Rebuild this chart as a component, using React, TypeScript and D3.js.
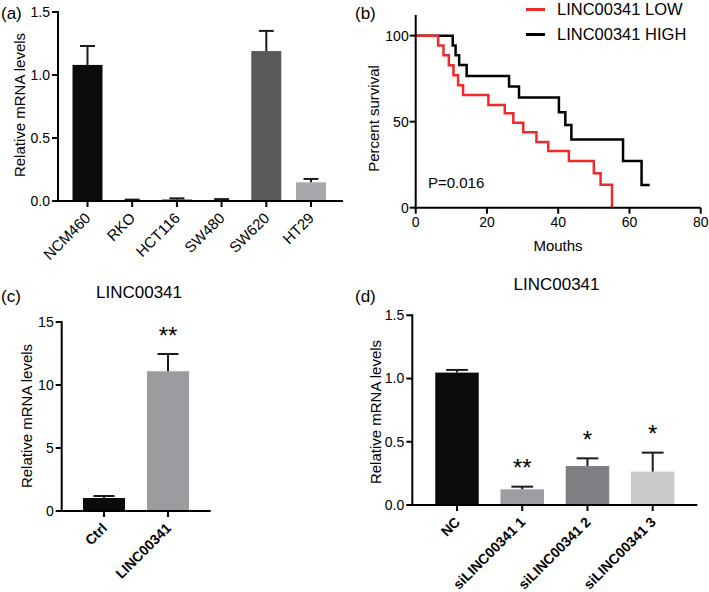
import React from 'react';
import * as d3 from 'd3';

const FONT = "'Liberation Sans', Arial, Helvetica, sans-serif";

// ---------- Panel (a) ----------
const cellLines = ['NCM460', 'RKO', 'HCT116', 'SW480', 'SW620', 'HT29'];
const cellMeans = [1.08, 0.005, 0.012, 0.008, 1.19, 0.148];
const cellErrors = [0.15, 0.006, 0.009, 0.007, 0.16, 0.027];
const cellColors = ['#0b0b0b', '#1c1c1c', '#3a3a3a', '#262626', '#58595b', '#a6a8ab'];
const aTicks = [0, 0.5, 1.0, 1.5];

// ---------- Panel (b) ----------
const lowTimes = [0, 6.3, 7.8, 9.3, 10.6, 11.9, 13.3, 20.4, 25.0, 27.4, 30.2, 33.9, 37.2, 43.0, 50.0, 51.9, 55.1];
const lowSurv = [100, 94.3, 88.6, 82.8, 77.0, 71.2, 65.5, 59.7, 54.9, 49.4, 43.8, 38.2, 33.0, 27.2, 20.0, 13.4, 0];
const highTimes = [0, 10.4, 11.2, 12.2, 14.3, 26.2, 29.0, 40.2, 42.0, 43.7, 58.2, 63.4, 65.7];
const highSurv = [100, 94.3, 88.6, 82.9, 76.6, 70.4, 64.0, 55.5, 48.1, 39.7, 27.2, 13.2, 13.2];
const bXTicks = [0, 20, 40, 60, 80];
const bYTicks = [0, 50, 100];
const legendLabels = ['LINC00341 LOW', 'LINC00341 HIGH'];
const legendColors = ['#ee2a2a', '#000000'];

// ---------- Panel (c) ----------
const cGroups = ['Ctrl', 'LINC00341'];
const cMeans = [1.03, 11.09];
const cErrors = [0.16, 1.37];
const cColors = ['#0b0b0b', '#9a9ca0'];
const cStars = ['', '**'];
const cTicks = [0, 5, 10, 15];

// ---------- Panel (d) ----------
const dGroups = ['NC', 'siLINC00341 1', 'siLINC00341 2', 'siLINC00341 3'];
const dMeans = [1.047, 0.124, 0.308, 0.264];
const dErrors = [0.021, 0.021, 0.061, 0.15];
const dColors = ['#0b0b0b', '#9c9ea2', '#7d7f82', '#c9cacc'];
const dStars = ['', '**', '*', '*'];
const dTicks = [0, 0.5, 1.0, 1.5];

type BarProps = {
  cats: string[];
  means: number[];
  errs: number[];
  colors: string[];
  stars?: string[];
  ticks: number[];
  fmt: (v: number) => string;
  yMax: number;
  axisX: number;
  axisRight: number;
  yTop: number;
  yBottom: number;
  firstC: number;
  lastC: number;
  barW: number;
  labelSize: number;
  labelWeight: string;
  title: string;
  titleY: number;
};

function BarPanel(p: BarProps) {
  const y = d3.scaleLinear().domain([0, p.yMax]).range([p.yBottom, p.yTop]);
  const x = d3.scalePoint<string>().domain(p.cats).range([p.firstC, p.lastC]);
  const cap = p.barW / 2;
  return (
    <g>
      {p.cats.map((c, i) => {
        const cx = x(c)!;
        const top = y(p.means[i]);
        const et = y(p.means[i] + p.errs[i]);
        return (
          <g key={c}>
            <rect x={cx - p.barW / 2} y={top} width={p.barW} height={p.yBottom - top} fill={p.colors[i]} />
            <line x1={cx} x2={cx} y1={top} y2={et} stroke="#1a1a1a" strokeWidth={2} />
            <line x1={cx - cap / 2} x2={cx + cap / 2} y1={et} y2={et} stroke="#1a1a1a" strokeWidth={2} />
            {p.stars && p.stars[i] ? (
              <text x={cx} y={et - 24 + 13.7} textAnchor="middle" fontSize={24} fontFamily={FONT}>
                {p.stars[i]}
              </text>
            ) : null}
            <line x1={cx} x2={cx} y1={p.yBottom} y2={p.yBottom + 6} stroke="#000" strokeWidth={2} />
            <text
              transform={`translate(${cx + 4},${p.yBottom + 18}) rotate(-45)`}
              textAnchor="end"
              fontSize={p.labelSize}
              fontWeight={p.labelWeight}
              fontFamily={FONT}
            >
              {c}
            </text>
          </g>
        );
      })}
      {p.ticks.map((t) => (
        <g key={t}>
          <line x1={p.axisX - 6} x2={p.axisX} y1={y(t)} y2={y(t)} stroke="#000" strokeWidth={2} />
          <text x={p.axisX - 8} y={y(t)} dy="0.35em" textAnchor="end" fontSize={14} fontFamily={FONT}>
            {p.fmt(t)}
          </text>
        </g>
      ))}
      <line x1={p.axisX} x2={p.axisX} y1={y(p.yMax) - 1} y2={p.yBottom + 1} stroke="#000" strokeWidth={2} />
      <line x1={p.axisX - 1} x2={p.axisRight} y1={p.yBottom} y2={p.yBottom} stroke="#000" strokeWidth={2} />
    </g>
  );
}

function YTitle({ x, y, text }: { x: number; y: number; text: string }) {
  return (
    <text transform={`translate(${x},${y}) rotate(-90)`} textAnchor="middle" fontSize={15} fontFamily={FONT}>
      {text}
    </text>
  );
}

function KMPanel() {
  const x = d3.scaleLinear().domain([0, 80]).range([415.7, 700.7]);
  const y = d3.scaleLinear().domain([0, 112]).range([207.7, 15]);
  const line = d3
    .line<[number, number]>()
    .x((d) => x(d[0]))
    .y((d) => y(d[1]))
    .curve(d3.curveStepAfter);
  const low = lowTimes.map((t, i) => [t, lowSurv[i]] as [number, number]);
  const high = highTimes.map((t, i) => [t, highSurv[i]] as [number, number]);
  return (
    <g>
      <path d={line(high)!} fill="none" stroke="#000" strokeWidth={2.5} />
      <path d={line(low)!} fill="none" stroke="#ee2a2a" strokeWidth={2.5} />
      {bXTicks.map((t) => (
        <g key={t}>
          <line x1={x(t)} x2={x(t)} y1={y(0)} y2={y(0) + 6} stroke="#000" strokeWidth={2} />
          <text x={x(t)} y={227} textAnchor="middle" fontSize={14} fontFamily={FONT}>
            {t}
          </text>
        </g>
      ))}
      {bYTicks.map((t) => (
        <g key={t}>
          <line x1={x(0) - 6} x2={x(0)} y1={y(t)} y2={y(t)} stroke="#000" strokeWidth={2} />
          <text x={x(0) - 7} y={y(t)} dy="0.35em" textAnchor="end" fontSize={14} fontFamily={FONT}>
            {t}
          </text>
        </g>
      ))}
      <line x1={x(0)} x2={x(0)} y1={y(112)} y2={y(0) + 1} stroke="#000" strokeWidth={2} />
      <line x1={x(0) - 1} x2={x(80)} y1={y(0)} y2={y(0)} stroke="#000" strokeWidth={2} />
      <text x={428} y={188} fontSize={15} fontFamily={FONT}>P=0.016</text>
      <text x={558} y={251} textAnchor="middle" fontSize={15} fontFamily={FONT}>Mouths</text>
      <YTitle x={379} y={118.5} text="Percent survival" />
      {legendLabels.map((l, i) => (
        <g key={l}>
          <line x1={526} x2={545} y1={9.5 + i * 25} y2={9.5 + i * 25} stroke={legendColors[i]} strokeWidth={3} />
          <text x={557} y={9.5 + i * 25} dy="0.36em" fontSize={16.5} fontFamily={FONT}>
            {l}
          </text>
        </g>
      ))}
    </g>
  );
}

export default function App() {
  return (
    <svg
      width={709}
      height={592}
      style={{ position: 'absolute', left: 0, top: 0, background: '#fff' }}
      fontFamily={FONT}
    >
      <rect width={709} height={592} fill="#fff" />
      {/* (a) */}
      <text x={1} y={19} fontSize={17} fontFamily={FONT}>(a)</text>
      <BarPanel
        cats={cellLines}
        means={cellMeans}
        errs={cellErrors}
        colors={cellColors}
        ticks={aTicks}
        fmt={d3.format('.1f')}
        yMax={1.5}
        axisX={58}
        axisRight={343}
        yTop={12}
        yBottom={201}
        firstC={87.5}
        lastC={311}
        barW={30}
        labelSize={15}
        labelWeight="normal"
        title=""
        titleY={0}
      />
      <YTitle x={25} y={105} text="Relative mRNA levels" />

      {/* (b) */}
      <text x={355} y={19} fontSize={17} fontFamily={FONT}>(b)</text>
      <KMPanel />

      {/* (c) */}
      <text x={1} y={302} fontSize={17} fontFamily={FONT}>(c)</text>
      <text x={139} y={298} textAnchor="middle" fontSize={17} fontFamily={FONT}>LINC00341</text>
      <BarPanel
        cats={cGroups}
        means={cMeans}
        errs={cErrors}
        colors={cColors}
        stars={cStars}
        ticks={cTicks}
        fmt={d3.format('d')}
        yMax={15}
        axisX={61.7}
        axisRight={210.7}
        yTop={322}
        yBottom={511}
        firstC={104}
        lastC={168}
        barW={42}
        labelSize={14}
        labelWeight="bold"
        title=""
        titleY={0}
      />
      <YTitle x={31.5} y={416} text="Relative mRNA levels" />

      {/* (d) */}
      <text x={355} y={302} fontSize={17} fontFamily={FONT}>(d)</text>
      <text x={556.5} y={290} textAnchor="middle" fontSize={17} fontFamily={FONT}>LINC00341</text>
      <BarPanel
        cats={dGroups}
        means={dMeans}
        errs={dErrors}
        colors={dColors}
        stars={dStars}
        ticks={dTicks}
        fmt={d3.format('.1f')}
        yMax={1.5}
        axisX={412.3}
        axisRight={697.3}
        yTop={315.3}
        yBottom={505}
        firstC={457}
        lastC={652.7}
        barW={43.5}
        labelSize={14}
        labelWeight="bold"
        title=""
        titleY={0}
      />
      <YTitle x={380.5} y={412} text="Relative mRNA levels" />
    </svg>
  );
}
